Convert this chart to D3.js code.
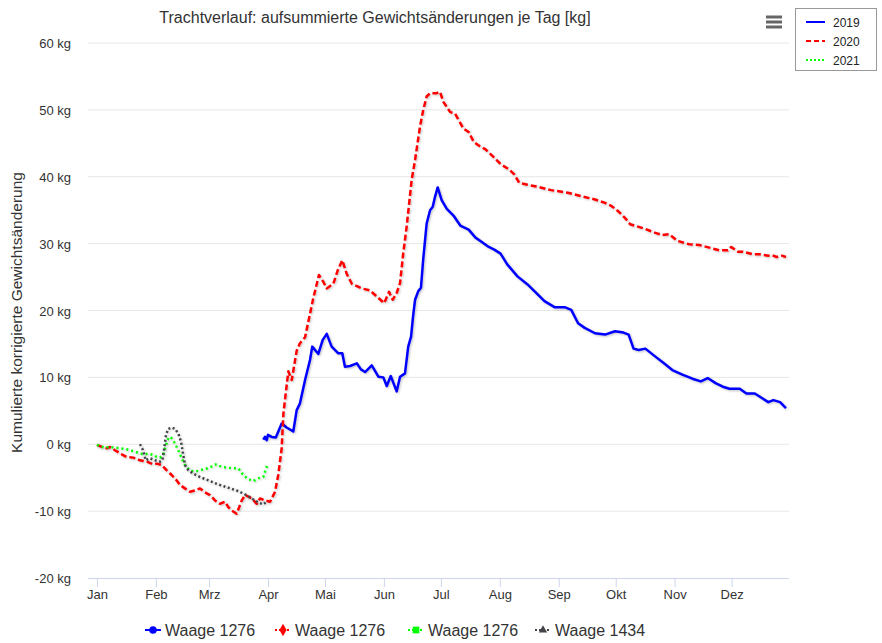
<!DOCTYPE html>
<html>
<head>
<meta charset="utf-8">
<script src="https://cdn.jsdelivr.net/npm/d3@7"></script>
<style>
  body { margin: 0; background: #fff; }
  svg { font-family: "Liberation Sans", Arial, sans-serif; }
</style>
</head>
<body>
<div id="chart"></div>
<script>
// Monate (Achsenbeschriftung) und ihre Tagesnummer im Jahr
const monthLabels = ['Jan', 'Feb', 'Mrz', 'Apr', 'Mai', 'Jun', 'Jul', 'Aug', 'Sep', 'Okt', 'Nov', 'Dez'];
const monthStarts = [0, 31, 59, 90, 120, 151, 181, 212, 243, 273, 304, 334];
const yTicks = [-20, -10, 0, 10, 20, 30, 40, 50, 60];

// [Tag im Jahr, kg]
const waage1276_2019 = [
  [87.5, 0.7], [88.4, 1.1], [89.3, 0.6], [90.0, 1.4], [91.9, 1.1], [94.1, 1.0], [97.2, 3.1],
  [99.8, 2.5], [103.3, 1.9], [105.1, 5.1], [106.8, 6.1], [109.5, 9.6], [112.1, 12.6], [113.3, 14.6],
  [116.5, 13.5], [118.8, 15.6], [120.9, 16.5], [123.5, 14.6], [127.0, 13.6], [129.1, 13.6],
  [130.5, 11.6], [133.2, 11.7], [136.7, 12.1], [138.9, 11.2], [141.1, 10.8], [144.6, 11.8],
  [148.1, 10.1], [150.7, 10.0], [152.5, 8.7], [154.6, 10.2], [157.7, 7.9], [159.5, 10.1],
  [162.1, 10.6], [163.8, 14.6], [165.3, 16.1], [166.3, 19.0], [167.4, 21.6], [169.1, 22.9],
  [170.5, 23.4], [171.7, 27.7], [173.5, 33.0], [175.3, 35.0], [176.7, 35.5], [177.9, 37.0],
  [179.3, 38.4], [181.4, 36.5], [184.1, 35.2], [187.6, 34.2], [191.2, 32.7], [195.6, 32.1],
  [199.2, 30.9], [201.8, 30.4], [206.2, 29.5], [209.1, 29.1], [212.4, 28.5], [215.9, 26.9],
  [221.3, 25.1], [226.6, 23.9], [230.2, 22.9], [235.5, 21.4], [240.8, 20.5], [246.1, 20.5],
  [249.6, 20.1], [253.2, 18.1], [256.7, 17.4], [262.1, 16.6], [267.4, 16.4], [272.6, 16.9],
  [277.1, 16.7], [279.8, 16.4], [282.4, 14.3], [285.1, 14.1], [288.6, 14.3], [293.9, 13.1],
  [298.4, 12.1], [302.8, 11.1], [308.1, 10.4], [313.4, 9.8], [317.8, 9.4], [321.4, 9.9],
  [325.8, 9.1], [329.4, 8.6], [332.9, 8.3], [338.3, 8.3], [341.8, 7.6], [346.2, 7.6],
  [348.9, 7.1], [353.3, 6.3], [356.0, 6.6], [359.5, 6.3], [362.6, 5.4]
];

const waage1276_2020 = [
  [0, -0.1], [2.5, -0.4], [5.1, -0.6], [6.8, -0.4], [9.5, -0.9], [13.0, -1.5], [15.6, -1.9],
  [19.1, -2.0], [22.6, -2.4], [26.2, -2.6], [29.6, -3.0], [31.4, -2.9], [34.1, -3.1], [36.7, -3.9],
  [39.3, -4.6], [41.9, -5.4], [43.7, -6.1], [46.3, -6.6], [48.9, -7.1], [51.6, -6.9], [54.2, -6.6],
  [56.8, -7.2], [59.5, -7.6], [62.1, -8.4], [64.7, -8.9], [67.4, -8.6], [69.1, -9.4], [70.9, -9.9],
  [73.5, -10.4], [76.2, -8.4], [77.9, -7.6], [81.4, -8.1], [84.1, -8.9], [85.8, -8.1], [88.4, -8.4],
  [91.1, -8.6], [93.7, -7.1], [95.4, -4.6], [97.2, -0.6], [98.1, 4.6], [100.7, 10.9], [102.5, 9.6],
  [105.1, 14.0], [106.8, 15.1], [109.5, 16.0], [112.1, 19.5], [113.8, 21.8], [116.8, 25.3],
  [119.1, 24.3], [120.9, 23.3], [124.4, 24.0], [126.7, 26.0], [129.1, 27.5], [131.4, 25.5],
  [134.1, 24.0], [139.3, 23.3], [143.7, 23.0], [147.2, 22.1], [151.1, 21.1], [153.7, 22.8],
  [155.6, 21.6], [157.7, 22.6], [159.5, 24.1], [161.2, 28.6], [163.0, 32.6], [165.6, 39.5],
  [167.4, 42.5], [170.0, 47.5], [171.7, 50.0], [173.5, 52.0], [175.3, 52.5], [178.8, 52.5],
  [180.5, 52.7], [182.3, 51.2], [185.8, 49.7], [188.5, 49.4], [192.9, 47.2], [195.6, 46.7],
  [198.3, 45.2], [201.8, 44.5], [204.5, 44.1], [208.9, 42.9], [212.4, 41.9], [216.8, 41.1],
  [219.5, 40.4], [222.2, 39.1], [226.6, 38.8], [231.9, 38.5], [239.0, 38.0], [247.8, 37.6],
  [254.9, 37.1], [262.1, 36.6], [267.4, 36.1], [270.9, 35.6], [274.5, 34.8], [278.0, 33.8],
  [280.6, 32.9], [285.1, 32.5], [288.6, 32.2], [293.9, 31.6], [297.5, 31.3], [301.1, 31.4],
  [305.5, 30.4], [311.7, 29.9], [317.0, 29.8], [322.3, 29.4], [327.6, 29.0], [332.1, 29.0],
  [333.8, 29.5], [337.3, 28.8], [340.0, 28.8], [345.3, 28.4], [348.9, 28.4], [353.3, 28.2],
  [355.1, 28.3], [357.7, 28.0], [360.4, 28.2], [362.6, 28.0]
];

const waage1276_2021 = [
  [0, -0.1], [1.6, -0.3], [4.2, -0.5], [6.8, -0.4], [9.5, -0.5], [12.1, -0.6], [14.7, -0.7],
  [17.4, -0.9], [20.0, -1.1], [22.6, -1.4], [25.3, -1.5], [27.0, -1.4], [29.6, -1.6], [31.4, -1.9],
  [33.2, -2.0], [34.9, -1.5], [35.8, -0.6], [37.2, 0.6], [37.9, 1.1], [39.3, 0.9], [41.1, 0.1],
  [42.8, -0.9], [44.6, -2.1], [46.3, -3.1], [48.9, -3.9], [51.6, -4.1], [54.2, -3.9], [56.8, -3.7],
  [59.5, -3.5], [61.2, -3.1], [63.0, -3.0], [65.6, -3.4], [68.3, -3.5], [71.7, -3.6], [74.4, -3.6],
  [77.0, -4.6], [79.6, -5.2], [82.3, -5.5], [84.9, -5.1], [87.5, -4.9], [88.4, -4.1], [89.8, -3.0]
];

const waage1434_2021 = [
  [22.6, 0.0], [23.8, -0.6], [24.9, -1.6], [25.6, -2.4], [27.9, -2.1], [30.5, -2.4], [33.2, -2.6],
  [34.4, -2.4], [35.4, -0.6], [36.3, 1.4], [37.5, 2.3], [39.3, 2.5], [41.1, 2.3], [42.8, 1.6],
  [44.2, 0.4], [45.4, -1.6], [46.3, -3.1], [48.1, -3.9], [50.7, -4.4], [54.2, -4.9], [58.6, -5.4],
  [63.8, -6.0], [69.1, -6.5], [74.4, -7.0], [77.9, -7.5], [81.4, -8.1], [84.9, -8.7], [87.5, -9.0],
  [89.3, -8.6]
];

// Darstellung der Reihen
const series = [
  { name: 'Waage 1276', data: waage1276_2019, color: '#0000ff', dash: null, width: 2.5, marker: 'circle' },
  { name: 'Waage 1276', data: waage1276_2020, color: '#ff0000', dash: '6,3', width: 2.5, marker: 'diamond' },
  { name: 'Waage 1276', data: waage1276_2021, color: '#00ff00', dash: '2,3', width: 2.5, marker: 'square' },
  { name: 'Waage 1434', data: waage1434_2021, color: '#434348', dash: '2,2.5', width: 2.5, marker: 'triangle' }
];

const width = 882, height = 643;
const plot = { left: 88, right: 789, top: 43, bottom: 578 };

const svg = d3.select('#chart').append('svg')
  .attr('width', width)
  .attr('height', height);

// Schatten wie bei Highcharts
const defs = svg.append('defs');
const f = defs.append('filter').attr('id', 'shadow')
  .attr('x', '-5%').attr('y', '-5%').attr('width', '110%').attr('height', '110%');
f.append('feDropShadow').attr('dx', 1).attr('dy', 1).attr('stdDeviation', 0.8)
  .attr('flood-color', '#000').attr('flood-opacity', 0.25);

const x = d3.scaleLinear().domain([0, 364]).range([97, 788.6]);
const y = d3.scaleLinear().domain([-20, 60]).range([plot.bottom, plot.top]);

// Gitterlinien
svg.append('g')
  .selectAll('line')
  .data(yTicks.filter(d => d > -20))
  .enter()
  .append('line')
  .attr('x1', plot.left).attr('x2', plot.right)
  .attr('y1', d => y(d)).attr('y2', d => y(d))
  .attr('stroke', '#e6e6e6').attr('stroke-width', 1);

// Y-Achse
const yAxis = svg.append('g')
  .attr('transform', `translate(${plot.left - 14},0)`)
  .call(d3.axisLeft(y).tickValues(yTicks).tickSize(0).tickFormat(d => d + ' kg'));
yAxis.select('.domain').remove();
yAxis.selectAll('text')
  .attr('font-size', 13).attr('fill', '#333').attr('dy', '0.35em')
  .style('font-family', '"Liberation Sans", Arial, sans-serif');

// X-Achse
const xAxis = svg.append('g')
  .attr('transform', `translate(0,${plot.bottom})`)
  .call(d3.axisBottom(x).tickValues(monthStarts).tickSize(9).tickPadding(3)
    .tickFormat((d, i) => monthLabels[i]));
xAxis.select('.domain')
  .attr('d', `M${plot.left},0.5H${plot.right}`)
  .attr('stroke', '#ccd6eb');
xAxis.selectAll('.tick line').attr('stroke', '#ccd6eb');
xAxis.selectAll('text')
  .attr('font-size', 13).attr('fill', '#333')
  .style('font-family', '"Liberation Sans", Arial, sans-serif');

// Linien
const line = d3.line()
  .x(d => x(d[0]))
  .y(d => y(d[1]));

svg.append('g')
  .selectAll('path')
  .data(series)
  .enter()
  .append('path')
  .attr('d', d => line(d.data))
  .attr('fill', 'none')
  .attr('stroke', d => d.color)
  .attr('stroke-width', d => d.width)
  .attr('stroke-dasharray', d => d.dash)
  .attr('stroke-linejoin', 'round')
  .attr('filter', 'url(#shadow)');

// Titel
svg.append('text')
  .attr('x', 375).attr('y', 23)
  .attr('text-anchor', 'middle')
  .attr('font-size', 16).attr('fill', '#333')
  .text('Trachtverlauf: aufsummierte Gewichtsänderungen je Tag [kg]');

// Y-Achsentitel
svg.append('text')
  .attr('transform', `translate(22,${(plot.top + plot.bottom) / 2 + 2}) rotate(-90)`)
  .attr('text-anchor', 'middle')
  .attr('font-size', 15.5).attr('fill', '#333')
  .text('Kumulierte korrigierte Gewichtsänderung');

// Menü-Symbol
svg.append('g')
  .selectAll('line')
  .data([17, 22, 27])
  .enter()
  .append('line')
  .attr('x1', 766).attr('x2', 782)
  .attr('y1', d => d).attr('y2', d => d)
  .attr('stroke', '#666').attr('stroke-width', 3);

// Legende oben rechts (Jahre)
const yearLegend = [
  { label: '2019', color: '#0000ff', dash: null },
  { label: '2020', color: '#ff0000', dash: '5,3' },
  { label: '2021', color: '#00ff00', dash: '2,2' }
];
const yl = svg.append('g');
yl.append('rect')
  .attr('x', 795.5).attr('y', 8.5).attr('width', 81).attr('height', 62)
  .attr('fill', '#fff').attr('stroke', '#999');
yearLegend.forEach((d, i) => {
  const yy = 22 + i * 19;
  yl.append('line')
    .attr('x1', 806).attr('x2', 825).attr('y1', yy).attr('y2', yy)
    .attr('stroke', d.color).attr('stroke-width', 2)
    .attr('stroke-dasharray', d.dash);
  yl.append('text')
    .attr('x', 833).attr('y', yy + 4.5)
    .attr('font-size', 12).attr('fill', '#222')
    .text(d.label);
});

// Legende unten
const legendX = [145, 275, 408, 535];
const bl = svg.append('g');
series.forEach((s, i) => {
  const lx = legendX[i], ly = 630;
  bl.append('line')
    .attr('x1', lx).attr('x2', lx + 16).attr('y1', ly).attr('y2', ly)
    .attr('stroke', s.color).attr('stroke-width', 2)
    .attr('stroke-dasharray', s.dash ? '2,2' : null);
  const symType = { circle: d3.symbolCircle, diamond: d3.symbolDiamond, square: d3.symbolSquare, triangle: d3.symbolTriangle }[s.marker];
  bl.append('path')
    .attr('transform', `translate(${lx + 8},${ly})`)
    .attr('d', d3.symbol().type(symType).size(s.marker === 'triangle' ? 30 : 45)())
    .attr('fill', s.color);
  bl.append('text')
    .attr('x', lx + 20).attr('y', ly + 6)
    .attr('font-size', 16).attr('fill', '#333')
    .text(s.name);
});
</script>
</body>
</html>
